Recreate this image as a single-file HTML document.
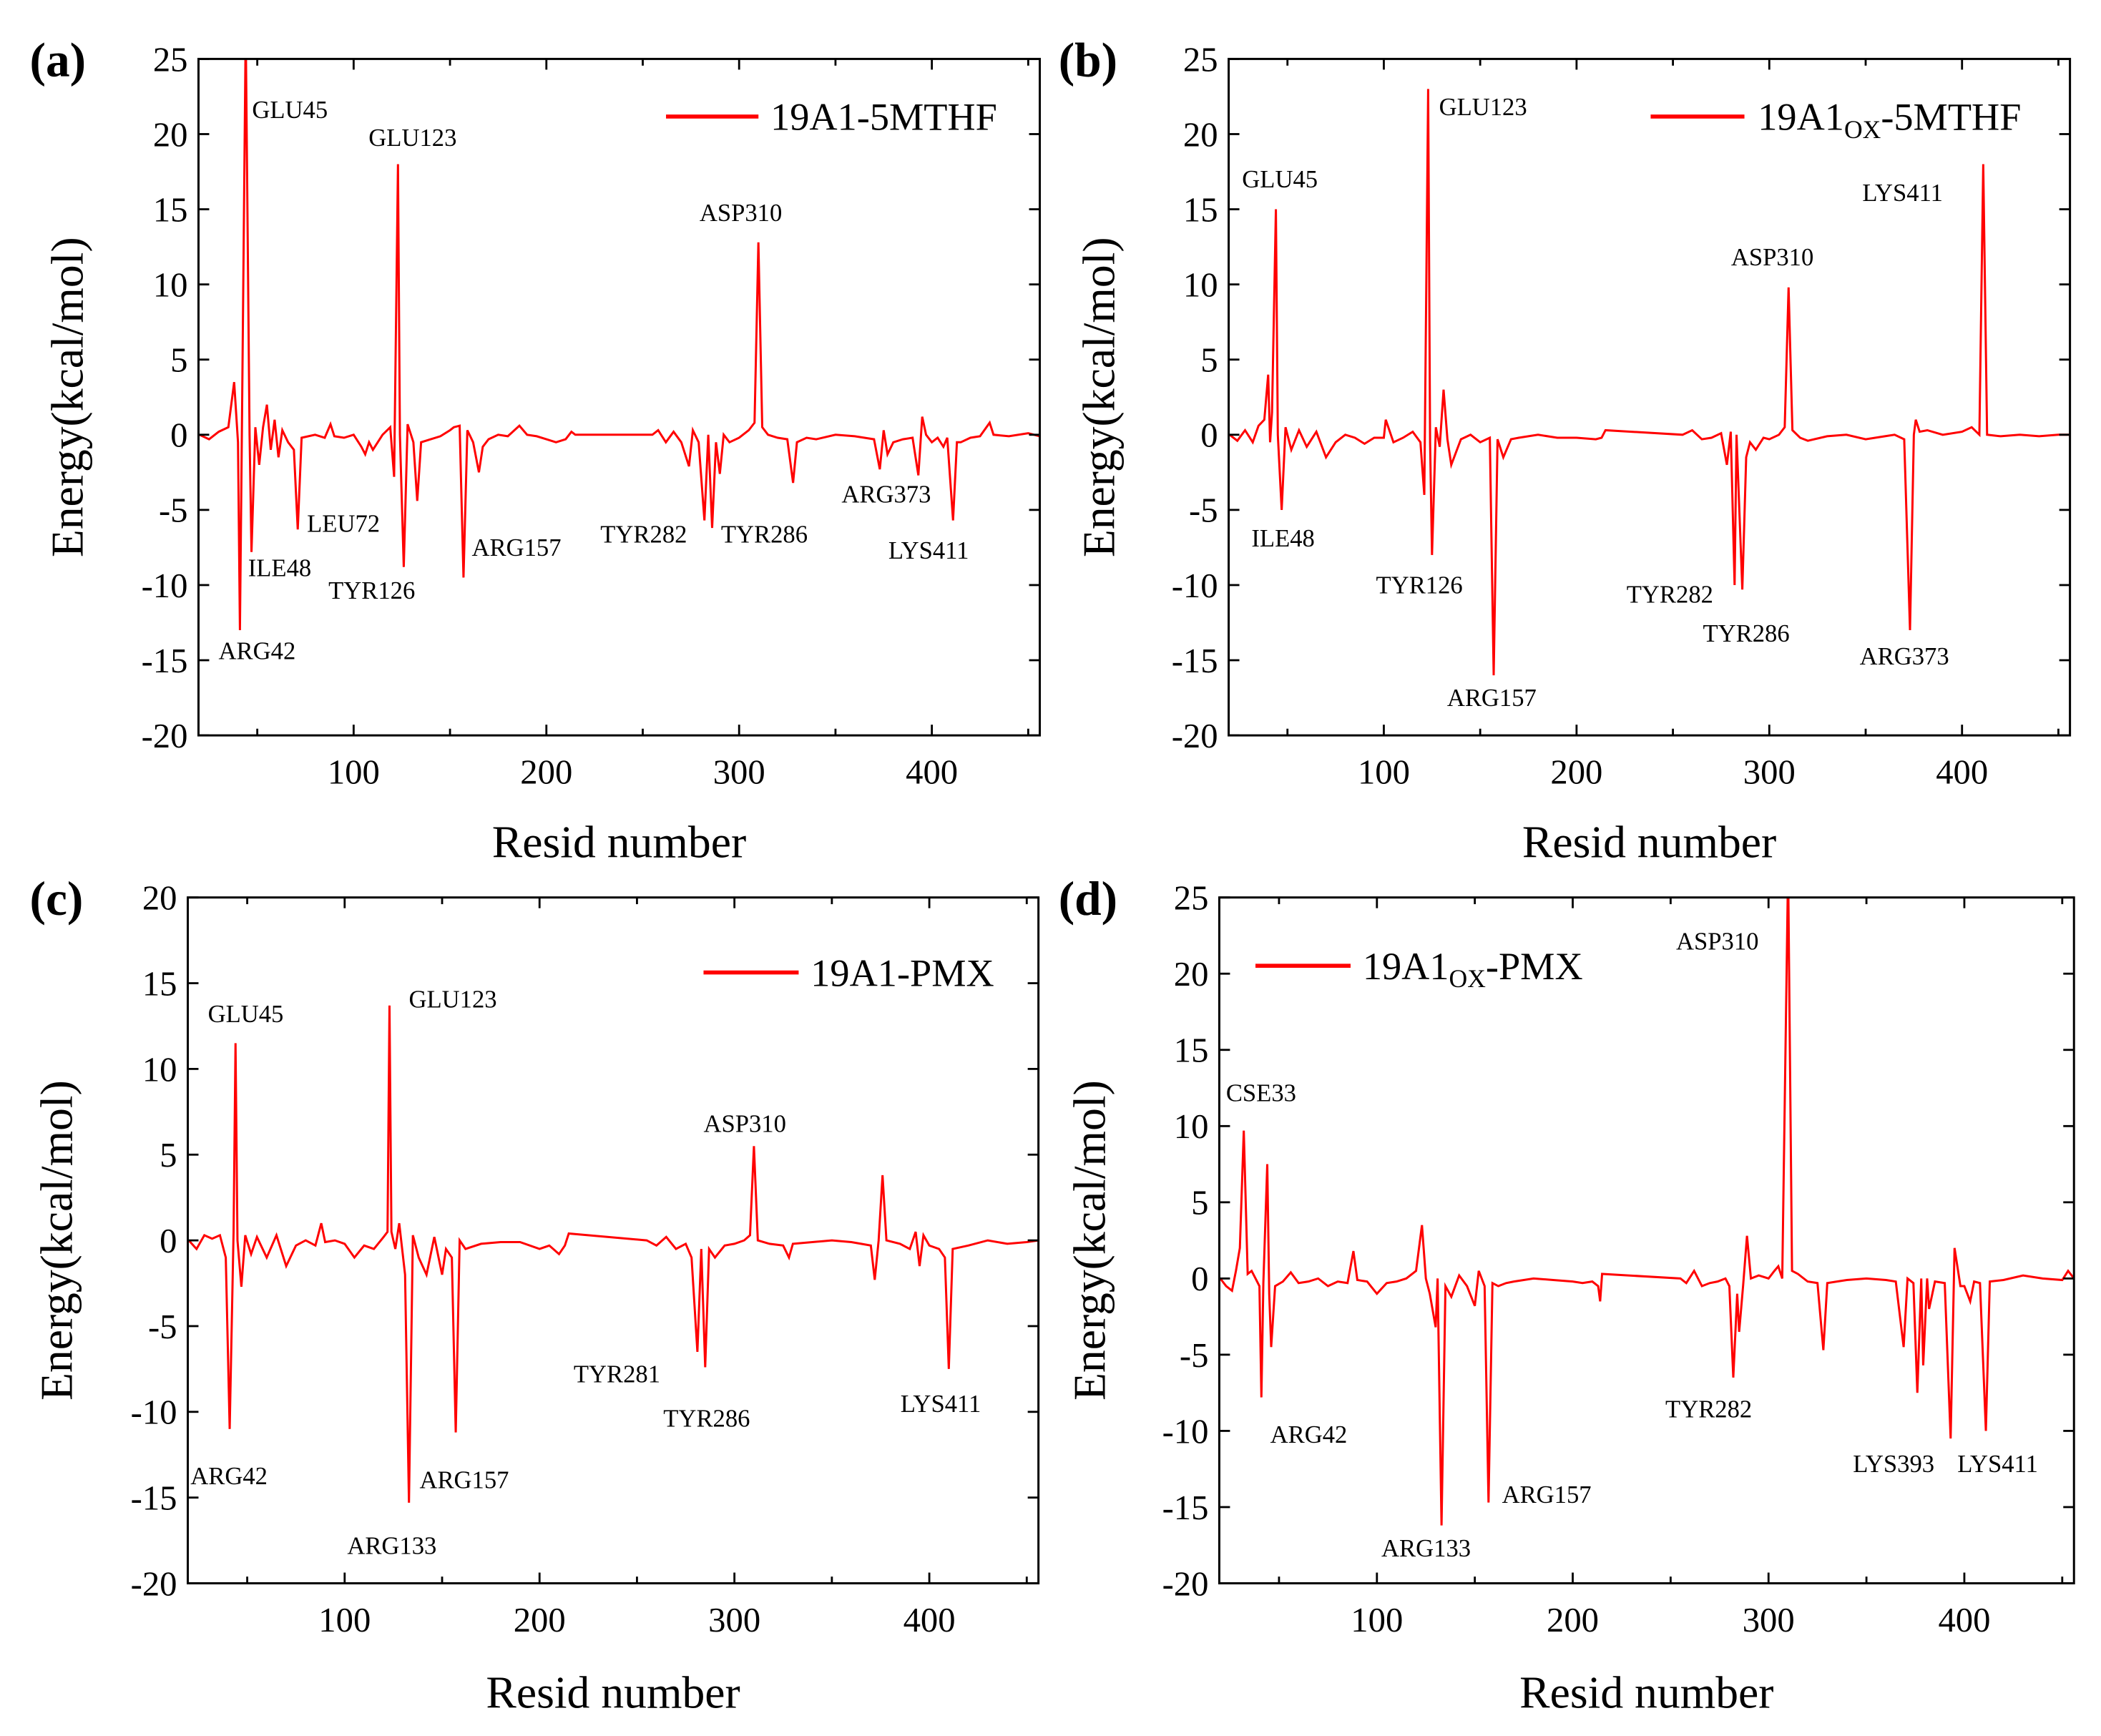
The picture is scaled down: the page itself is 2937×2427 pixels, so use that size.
<!DOCTYPE html>
<html><head><meta charset="utf-8"><style>
html,body{margin:0;padding:0;background:#fff;}
svg{display:block;font-family:"Liberation Serif",serif;}
</style></head><body>
<svg id="fig" width="2937" height="2427" viewBox="0 0 1568 1296" xmlns="http://www.w3.org/2000/svg"></svg>
<script>
// ---- data (resid, energy kcal/mol) ----
const residA = [20,25,30,35,38,40,41,42,44,46,47,49,51,53,55,57,59,61,63,66,69,71,73,80,85,88,90,95,100,104,106,108,110,115,119,121,123,124,126,128,131,133,135,140,145,150,152,155,157,159,162,165,167,170,175,180,186,190,195,200,205,210,213,215,255,258,262,266,270,274,276,279,282,284,286,288,290,292,295,300,305,308,310,312,315,320,325,328,330,335,340,350,360,365,370,373,375,377,380,385,390,393,395,397,400,403,406,408,411,413,415,420,425,430,432,440,450,456];
const energyA = [0,-0.3,0.2,0.5,3.5,-0.5,-13,0,27,0,-7.8,0.5,-2,0.5,2,-1,1,-1.5,0.3,-0.5,-1,-6.3,-0.2,0,-0.2,0.7,-0.1,-0.2,0,-0.8,-1.3,-0.5,-1,0,0.5,-2.8,18,0,-8.8,0.7,-0.5,-4.4,-0.5,-0.3,-0.1,0.3,0.5,0.6,-9.5,0.3,-0.5,-2.5,-0.8,-0.3,0,-0.1,0.6,0,-0.1,-0.3,-0.5,-0.3,0.2,0,0,0.3,-0.5,0.2,-0.5,-2.1,0.3,-0.5,-5.7,0,-6.2,-0.5,-2.6,0,-0.5,-0.2,0.3,0.8,12.8,0.5,0,-0.2,-0.3,-3.2,-0.5,-0.2,-0.3,0,-0.1,-0.2,-0.3,-2.3,0.3,-1.3,-0.5,-0.3,-0.2,-2.7,1.2,0,-0.5,-0.2,-0.8,-0.2,-5.7,-0.5,-0.5,-0.2,-0.1,0.8,0,-0.1,0.1,-0.1];

const residB = [20,24,28,32,35,38,40,41,42,44,45,47,49,52,56,60,65,70,75,80,85,90,95,100,101,105,110,115,119,121,123,124,125,127,129,131,133,135,140,145,150,155,157,159,162,166,170,180,190,200,210,213,215,255,260,265,270,275,278,280,282,283,286,288,290,293,297,300,305,308,310,312,316,320,330,340,350,360,365,370,373,375,376,378,382,390,400,405,409,411,413,420,430,440,450,456];
const energyB = [0,-0.4,0.3,-0.5,0.6,1,4,-0.5,1.5,15,0,-5,0.5,-1,0.3,-0.8,0.2,-1.5,-0.5,0,-0.2,-0.6,-0.2,-0.2,1,-0.5,-0.2,0.2,-0.5,-4,23,-0.5,-8,0.5,-0.8,3,-0.3,-2,-0.3,0,-0.5,-0.2,-16,-0.3,-1.5,-0.3,-0.2,0,-0.2,-0.2,-0.3,-0.2,0.3,0,0.3,-0.3,-0.2,0.1,-2,0.2,-10,0,-10.3,-1.5,-0.5,-1,-0.2,-0.3,0,0.5,9.8,0.3,-0.2,-0.4,-0.1,0,-0.3,-0.1,0,-0.3,-13,0,1,0.2,0.3,0,0.2,0.5,0,18,0,-0.1,0,-0.1,0,0];

const residC = [20,24,28,32,36,39,41,43,44,45,47,49,52,55,60,65,70,75,80,85,88,90,95,100,105,110,115,120,122,123,124,126,128,131,133,135,138,142,146,150,152,155,157,159,162,170,180,190,200,205,210,213,215,255,260,265,270,275,278,281,283,285,287,290,295,300,305,308,310,312,318,325,328,330,340,350,360,365,370,372,374,376,378,385,390,393,395,397,400,405,408,410,412,420,430,440,450,456];
const energyC = [0,-0.5,0.3,0.1,0.3,-1,-11,0.5,11.5,0,-2.7,0.3,-0.8,0.2,-1,0.3,-1.5,-0.3,0,-0.3,1,-0.1,0,-0.2,-1,-0.3,-0.5,0.2,0.5,13.7,0.5,-0.5,1,-2,-15.3,0.3,-1,-2,0.2,-2,-0.5,-1,-11.2,0,-0.5,-0.2,-0.1,-0.1,-0.5,-0.3,-0.8,-0.3,0.4,0,-0.3,0.2,-0.5,-0.2,-1,-6.5,-0.5,-7.4,-0.5,-1,-0.3,-0.2,0,0.3,5.5,0,-0.2,-0.3,-1,-0.2,-0.1,0,-0.1,-0.2,-0.3,-2.3,0,3.8,0,-0.2,-0.5,0.5,-1.5,0.3,-0.3,-0.5,-1,-7.5,-0.5,-0.3,0,-0.2,-0.1,0];

const residD = [20,23,26,28,30,32,34,36,38,40,41,42,44,45,46,48,52,56,60,65,70,75,80,85,88,90,95,100,105,110,115,120,123,125,127,130,131,133,135,138,142,146,150,152,155,157,159,162,166,170,180,190,200,205,210,213,214,215,255,258,262,266,270,274,278,280,282,284,285,287,289,291,295,300,303,305,307,310,312,315,320,325,328,330,335,340,350,360,365,369,371,374,376,378,379,381,382,385,390,393,395,398,400,403,405,408,411,413,420,430,440,450,453,456];
const energyD = [0,-0.5,-0.8,0.5,2,9.7,0.3,0.5,0,-0.5,-7.8,-0.3,7.5,-1,-4.5,-0.5,-0.2,0.4,-0.3,-0.2,0,-0.5,-0.2,-0.3,1.8,-0.1,-0.2,-1,-0.3,-0.2,0,0.5,3.5,0,-1,-3.2,0,-16.2,-0.5,-1.2,0.2,-0.5,-1.8,0.5,-0.5,-14.7,-0.3,-0.5,-0.3,-0.2,0,-0.1,-0.2,-0.3,-0.2,-0.5,-1.5,0.3,0,-0.3,0.5,-0.5,-0.3,-0.2,0,-0.5,-6.5,-1,-3.5,-0.5,2.8,0,0.2,0,0.5,0.8,0,27,0.5,0.3,-0.2,-0.3,-4.7,-0.3,-0.2,-0.1,0,-0.1,-0.2,-4.5,0,-0.3,-7.5,0,-5.7,0,-2,-0.2,-0.3,-10.5,2,-0.5,-0.5,-1.5,-0.2,-0.3,-10,-0.2,-0.1,0.2,0,-0.1,0.5,0];

const yTicksA = [-20,-15,-10,-5,0,5,10,15,20,25];
const yTicksC = [-20,-15,-10,-5,0,5,10,15,20];
const xTicks = [100,200,300,400];

// ---- layout ----
const NS = "http://www.w3.org/2000/svg";
const svg = document.getElementById('fig');
function mk(tag, attrs, parent){ const e=document.createElementNS(NS,tag); for(const k in attrs) e.setAttribute(k,attrs[k]); (parent||svg).appendChild(e); return e; }

const panels = [
  {id:'a', L:148, R:776, T:44, B:549, ymin:-20, ymax:25, yt:yTicksA, xs:residA, ys:energyA, lx:22, ly:57, ytx:50, xtb:640, bw:290,
   leg:{x1:497,x2:566,y:87,tx:575,ty:97,main:'19A1',sub:'',rest:'-5MTHF'},
   ann:[['GLU45',188,88],['GLU123',275,109],['ASP310',522,165],['LEU72',229,397],['ILE48',185,430],['TYR126',245,447],['ARG157',352,415],['TYR282',448,405],['TYR286',538,405],['ARG373',628,375],['LYS411',663,417],['ARG42',163,492]]},
  {id:'b', L:917, R:1545, T:44, B:549, ymin:-20, ymax:25, yt:yTicksA, xs:residB, ys:energyB, lx:790, ly:57, ytx:820, xtb:640, bw:300,
   leg:{x1:1232,x2:1302,y:87,tx:1312,ty:97,main:'19A1',sub:'OX',rest:'-5MTHF'},
   ann:[['GLU45',927,140],['GLU123',1074,86],['LYS411',1390,150],['ASP310',1292,198],['ILE48',934,408],['TYR126',1027,443],['TYR282',1214,450],['TYR286',1271,479],['ARG157',1080,527],['ARG373',1388,496]]},
  {id:'c', L:140, R:775, T:670, B:1182, ymin:-20, ymax:20, yt:yTicksC, xs:residC, ys:energyC, lx:22, ly:683, ytx:42, xtb:1275, bw:260,
   leg:{x1:525,x2:596,y:726,tx:605,ty:736,main:'19A1',sub:'',rest:'-PMX'},
   ann:[['GLU45',155,763],['GLU123',305,752],['ASP310',525,845],['TYR281',428,1032],['TYR286',495,1065],['LYS411',672,1054],['ARG42',142,1108],['ARG157',313,1111],['ARG133',259,1160]]},
  {id:'d', L:910, R:1548, T:670, B:1182, ymin:-20, ymax:25, yt:yTicksA, xs:residD, ys:energyD, lx:790, ly:683, ytx:813, xtb:1275, bw:270,
   leg:{x1:937,x2:1008,y:721,tx:1017,ty:731,main:'19A1',sub:'OX',rest:'-PMX'},
   ann:[['ASP310',1251,709],['CSE33',915,822],['ARG42',948,1077],['TYR282',1243,1058],['LYS393',1383,1099],['LYS411',1461,1099],['ARG157',1121,1122],['ARG133',1031,1162]]}
];
const XMIN=19.5, XMAX=456;

panels.forEach(p=>{
  const g = mk('g',{});
  
  
  const sx = v => p.L + (v-XMIN)/(XMAX-XMIN)*(p.R-p.L);
  const sy = v => p.B - (v-p.ymin)/(p.ymax-p.ymin)*(p.B-p.T);
  const cp = mk('clipPath',{id:'clip'+p.id},g);
  mk('rect',{x:p.L,y:p.T,width:p.R-p.L,height:p.B-p.T},cp);
  // legend background (drawn before series so series stays visible)
  const lbg = mk('rect',{x:p.leg.x1-6,y:p.leg.y-24,width:Math.min(p.bw,p.R-p.leg.x1+10),height:44,fill:'#fff'},g);
  // series
  let d='';
  p.xs.forEach((x,i)=>{ d += (i?'L':'M')+sx(x).toFixed(2)+' '+sy(p.ys[i]).toFixed(2); });
  const path = mk('path',{d:d,fill:'none',stroke:'#ff0000','stroke-width':1.6,'stroke-linejoin':'miter','clip-path':'url(#clip'+p.id+')'},g);
  
  
  // frame
  const fr = mk('rect',{x:p.L,y:p.T,width:p.R-p.L,height:p.B-p.T,fill:'none',stroke:'#000','stroke-width':1.6},g);
  
  
  // y ticks
  p.yt.forEach(v=>{
    const y=sy(v);
    mk('line',{x1:p.L,x2:p.L+8,y1:y,y2:y,stroke:'#000','stroke-width':1.5},g);
    mk('line',{x1:p.R,x2:p.R-8,y1:y,y2:y,stroke:'#000','stroke-width':1.5},g);
    const t = mk('text',{x:p.L-8,y:y+9,'text-anchor':'end','font-size':26},g);
    t.textContent=v;
    
    
  });
  // x ticks major/minor
  for(let v=50; v<=450; v+=50){
    const x=sx(v), len=(v%100===0)?8:5;
    mk('line',{x1:x,x2:x,y1:p.B,y2:p.B-len,stroke:'#000','stroke-width':1.5},g);
    mk('line',{x1:x,x2:x,y1:p.T,y2:p.T+len,stroke:'#000','stroke-width':1.5},g);
  }
  xTicks.forEach(v=>{
    const t = mk('text',{x:sx(v),y:p.B+36,'text-anchor':'middle','font-size':26},g);
    t.textContent=v;
    
    
  });
  // axis titles
  const xt = mk('text',{x:(p.L+p.R)/2,y:p.xtb,'text-anchor':'middle','font-size':34},g);
  xt.textContent='Resid number';
  
  
  const yc=(p.T+p.B)/2;
  const yt = mk('text',{x:p.ytx,y:yc,'text-anchor':'middle','font-size':34,transform:'rotate(-90 '+p.ytx+' '+yc+')','dominant-baseline':'central'},g);
  yt.textContent='Energy(kcal/mol)';
  
  
  // panel letter
  const pl = mk('text',{x:p.lx,y:p.ly,'font-size':36,'font-weight':'bold'},g);
  pl.textContent='('+p.id+')';
  
  
  // legend
  const lg = mk('g',{},g);
  
  
  mk('line',{x1:p.leg.x1,x2:p.leg.x2,y1:p.leg.y,y2:p.leg.y,stroke:'#ff0000','stroke-width':3},lg);
  const lt = mk('text',{x:p.leg.tx,y:p.leg.ty,'font-size':29},lg);
  const s1=mk('tspan',{},lt); s1.textContent=p.leg.main;
  if(p.leg.sub){ const s2=mk('tspan',{'font-size':19,dy:6},lt); s2.textContent=p.leg.sub; const s3=mk('tspan',{dy:-6},lt); s3.textContent=p.leg.rest; }
  else { s1.textContent=p.leg.main+p.leg.rest; }
  // annotations
  p.ann.forEach(a=>{
    const t = mk('text',{x:a[1],y:a[2],'font-size':18.5},g);
    t.textContent=a[0];
    
    
  });
});
</script>
</body></html>
